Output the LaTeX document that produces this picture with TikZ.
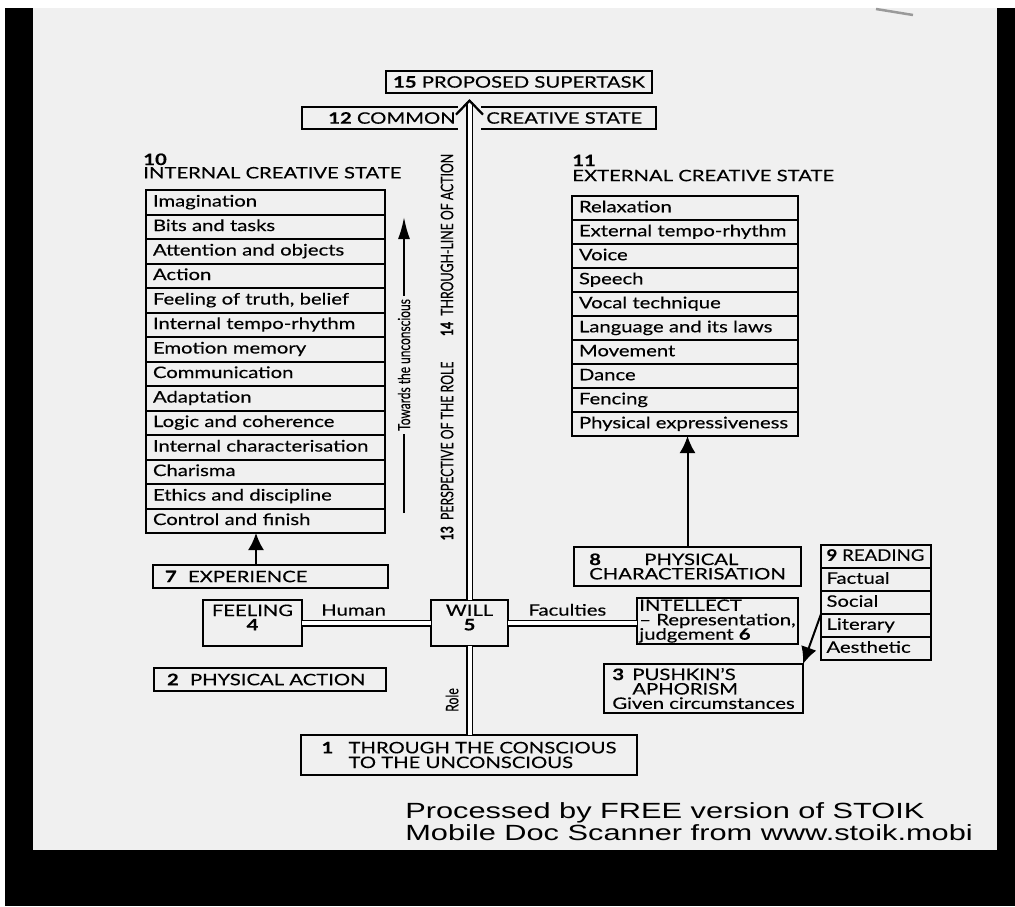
\documentclass[tikz,border=0pt]{standalone}
\usepackage{fontspec}
\setmainfont{Lato}[FakeStretch=1.28,FakeBold=0.3]
\newfontfamily\sidefont{Lato}[FakeBold=0.3]
\newfontfamily\scanfont{Liberation Sans}[FakeStretch=1.4]
\newcommand{\tallsc}[1]{\scalebox{1}[1.4]{#1}}
\definecolor{pagegray}{HTML}{F0F0F0}
\definecolor{edgegray}{HTML}{9A9A9A}
\usetikzlibrary{arrows.meta,positioning}

\begin{document}
\begin{tikzpicture}[x=0.2mm,y=-0.2mm,
    box/.style={draw,line width=0.4mm,inner sep=0pt,outer sep=0pt,align=center,
                font=\fontsize{9}{9.5}\selectfont},
    row/.style={draw,line width=0.4mm,outer sep=0pt,inner ysep=0pt,inner xsep=1.4mm,
                text height=2.3mm,text depth=0.6mm,align=left,
                font=\fontsize{9}{9.5}\selectfont},
    txt/.style={inner sep=0pt,font=\fontsize{9}{9.5}\selectfont},
    side/.style={rotate=90,inner sep=0pt,font=\sidefont\fontsize{7}{8}\selectfont},
    dbl/.style={double,double distance=0.8mm,line width=0.3mm},
    arr/.style={-{Latex[length=3.4mm,width=3.2mm]},line width=0.4mm}]
  \useasboundingbox (0,0) rectangle (1015,906);
  \fill[white] (0,0) rectangle (1015,906);
  \fill[black] (5,8) rectangle (1015,906);
  \fill[pagegray] (33,8) rectangle (997,850);
  \draw[edgegray,line width=0.5mm] (876,9) -- (913,15);

  \node[box,minimum width=53.2mm,minimum height=4.4mm] (c15) at (519,82)
    {\textbf{15} PROPOSED SUPERTASK};
  \node[box,minimum width=70.8mm,minimum height=4.4mm] (c12) at (479,118) {};
  \node[txt,anchor=east] (c12l) at (456,118) {\textbf{12} COMMON};
  \node[txt,anchor=west] (c12r) at (486,118) {CREATIVE STATE};

  \node[txt,anchor=west,align=left,font=\fontsize{9}{7.6}\selectfont] (h10) at (143,166)
    {\textbf{10}\\INTERNAL CREATIVE STATE};
  \node[txt,anchor=west,align=left,font=\fontsize{9}{8.6}\selectfont] (h11) at (572,168)
    {\textbf{11}\\EXTERNAL CREATIVE STATE};

  \foreach \txt [count=\i] in {Imagination,Bits and tasks,Attention and objects,Action,
      {Feeling of truth, belief},Internal tempo-rhythm,Emotion memory,Communication,
      Adaptation,Logic and coherence,Internal characterisation,Charisma,
      Ethics and discipline,Control and finish}
    \node[row,text width=45mm,minimum height=4.9mm] (in\i) at (265.5,{177.75+24.5*\i}) {\mbox{\txt}};

  \foreach \txt [count=\i] in {Relaxation,External tempo-rhythm,Voice,Speech,Vocal technique,
      Language and its laws,Movement,Dance,Fencing,Physical expressiveness}
    \node[row,text width=42.4mm,minimum height=4.8mm] (ex\i) at (685,{184+24*\i}) {\mbox{\txt}};

  \foreach \txt [count=\i] in {{\scalebox{0.92}[1]{\textbf{9} READING}},Factual,Social,Literary,Aesthetic}
    \node[row,text width=19.8mm,inner xsep=1.1mm,minimum height=4.6mm] (rd\i) at (876,{533.5+23*\i}) {\mbox{\txt}};

  \node[box,align=left,text width=42.2mm,inner xsep=2.4mm,minimum height=4.6mm] (c7) at (270.5,576.5)
    {\makebox[4.6mm][l]{\textbf{7}}EXPERIENCE};
  \node[box,minimum width=19.8mm,minimum height=9.2mm,text depth=2.2mm,
        font=\fontsize{9}{8.2}\selectfont] (feel) at (252.5,623) {FEELING\\\textbf{4}};
  \node[box,minimum width=15.4mm,minimum height=9.2mm,text depth=2.2mm,
        font=\fontsize{9}{8.2}\selectfont] (will) at (469.5,623) {WILL\\\textbf{5}};
  \node[box,align=left,minimum width=32.2mm,minimum height=9.2mm,
        font=\fontsize{9}{8.2}\selectfont] (intel) at (717.5,621)
    {INTELLECT\\-- Representation,\\judgement \textbf{6}};
  \node[box,align=left,text width=41.2mm,inner xsep=2.6mm,minimum height=4.6mm] (c2) at (270,679.5)
    {\makebox[4.6mm][l]{\textbf{2}}PHYSICAL ACTION};
  \node[box,align=left,minimum width=45.4mm,minimum height=7.8mm,
        font=\fontsize{9}{8.2}\selectfont] (c8) at (687.5,566.5)
    {\makebox[11mm][l]{\textbf{8}}PHYSICAL\\CHARACTERISATION};
  \node[box,align=left,minimum width=39.8mm,minimum height=9.8mm,
        font=\fontsize{9}{8.2}\selectfont] (c3) at (703.5,688.5)
    {\makebox[4mm][l]{\textbf{3}}PUSHKIN'S\\\hspace*{4mm}APHORISM\\Given circumstances};
  \node[box,align=left,minimum width=67.2mm,minimum height=8mm,
        font=\fontsize{9}{8.4}\selectfont] (c1) at (469,755)
    {\makebox[5.4mm][l]{\textbf{1}}THROUGH THE CONSCIOUS\\\hspace*{5.4mm}TO THE UNCONSCIOUS};

  \draw[pagegray,line width=4.6mm,shorten <=-0.6mm,shorten >=-0.6mm] (c12.north -| will) -- (c12.south -| will);
  \coordinate[yshift=-1.2mm] (tip) at (will.north |- c15.south);
  \draw[dbl,shorten >=0.5mm] (will.north) -- (tip);
  \draw[-{Straight Barb[length=2.8mm,width=5.4mm]},line width=0.45mm] ([yshift=-0.2mm]tip) -- (tip);
  \draw[dbl] (will.south |- c1.north) -- (will.south);
  \draw[dbl] (feel.east) -- node[pos=0.4,above,txt,inner sep=1.3mm] {Human} (will.west);
  \draw[dbl] (will.east) -- node[pos=0.46,above,txt,inner sep=1.3mm] {Faculties} (will.east -| intel.west);

  \coordinate (x7) at (256,0);
  \draw[arr] (c7.north -| x7) -- (in14.south -| x7);
  \draw[arr] (c8.north) -- (c8.north |- ex10.south);
  \draw[arr] (rd4.north west) -- (c3.north east);
  \coordinate (tw0) at (404,513);
  \coordinate (tw1) at (404,217);
  \draw[-{Latex[length=4.4mm,width=2.4mm]},line width=0.4mm] (tw0) --
    node[midway,rotate=90,fill=pagegray,inner xsep=0.7mm,inner ysep=0.3mm,
         font=\sidefont\fontsize{6.8}{8}\selectfont] {\tallsc{Towards the unconscious}} (tw1);

  \node[side] (l14) at (447,245) {\tallsc{\textbf{14}\enspace THROUGH-LINE OF ACTION}};
  \node[side] (l13) at (447,451) {\tallsc{\textbf{13}\enspace PERSPECTIVE OF THE ROLE}};
  \node[side] (lrole) at (452,700) {\tallsc{Role}};

  \node[anchor=north west,align=left,inner sep=0pt,font=\scanfont\fontsize{12.5}{12.5}\selectfont] (wm)
    at (405,802) {Processed by FREE version of STOIK\\Mobile Doc Scanner from www.stoik.mobi};
\end{tikzpicture}
\end{document}
